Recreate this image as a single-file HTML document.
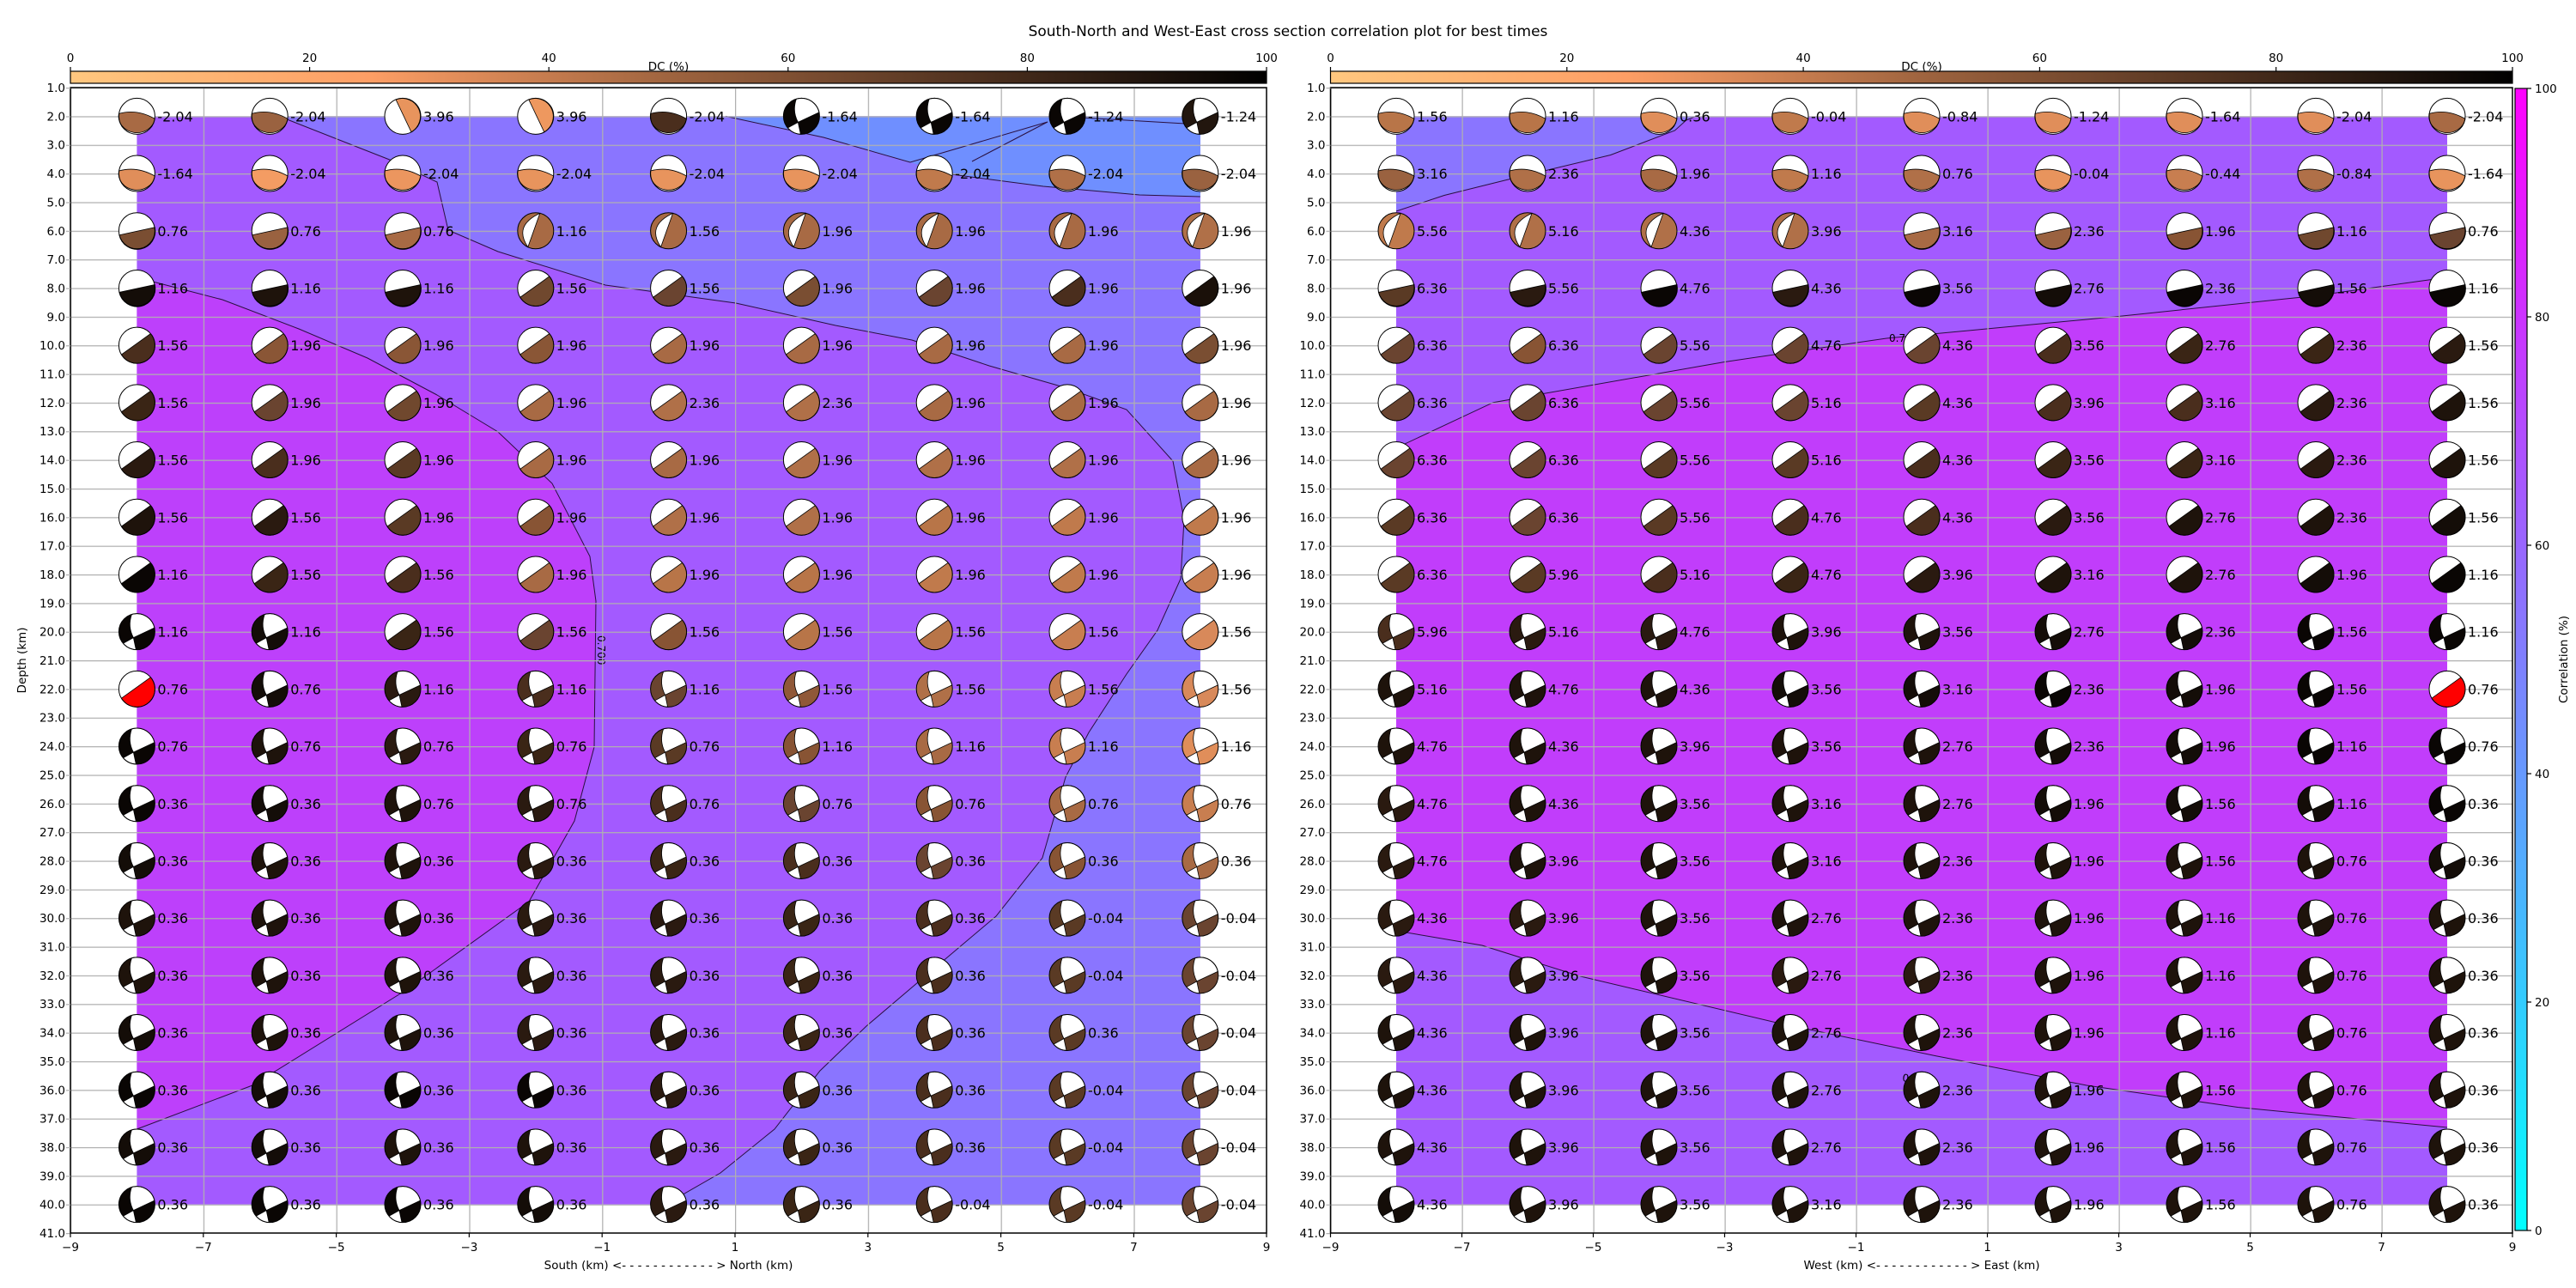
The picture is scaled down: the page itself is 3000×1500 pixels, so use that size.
<!DOCTYPE html>
<html><head><meta charset="utf-8"><style>
html,body{margin:0;padding:0;background:#fff;}
svg{display:block;font-family:"DejaVu Sans","Liberation Sans",sans-serif;}
</style></head><body>
<svg width="3000" height="1500" viewBox="0 0 3000 1500" xmlns="http://www.w3.org/2000/svg">
<defs>
<linearGradient id="dc" x1="0" x2="1" y1="0" y2="0">
<stop offset="0" stop-color="#ffc77f"/><stop offset="0.25" stop-color="#fd9e65"/><stop offset="0.5" stop-color="#9f643f"/><stop offset="0.75" stop-color="#503220"/><stop offset="1" stop-color="#000"/>
</linearGradient>
<linearGradient id="cc" x1="0" x2="0" y1="0" y2="1">
<stop offset="0" stop-color="#ff00ff"/><stop offset="1" stop-color="#00ffff"/>
</linearGradient>
<pattern id="hg" patternUnits="userSpaceOnUse" x="0" y="102" width="3000" height="33.35"><line x1="0" y1="0.6" x2="3000" y2="0.6" stroke="#b0b0b0" stroke-width="1.3"/></pattern>
<pattern id="vgL" patternUnits="userSpaceOnUse" x="82" y="0" width="154.8" height="1500"><line x1="0.6" y1="0" x2="0.6" y2="1500" stroke="#b0b0b0" stroke-width="1.3"/></pattern>
<pattern id="vgR" patternUnits="userSpaceOnUse" x="1549.5" y="0" width="153" height="1500"><line x1="0.6" y1="0" x2="0.6" y2="1500" stroke="#b0b0b0" stroke-width="1.3"/></pattern>
<g id="s1"><circle r="21" fill="#fff"/><path d="M-21,-3 Q0,-9 21,3 A21,19 0 0,1 -21,-3Z" stroke="#000" stroke-width=".8"/><circle r="21" fill="none" stroke="#000" stroke-width="1"/></g>
<g id="s2"><circle r="21" fill="#fff"/><path d="M-8,-19.4 L10,18.4 A21,21 0 0,0 -8,-19.4Z" stroke="#000" stroke-width=".8"/><circle r="21" fill="none" stroke="#000" stroke-width="1"/></g>
<g id="s4"><circle r="21" fill="#fff"/><path d="M-20.5,5 L21,-4 A21,21 0 0,1 -20.5,5Z" stroke="#000" stroke-width=".8"/><circle r="21" fill="none" stroke="#000" stroke-width="1"/></g>
<g id="s5"><circle r="21"/><path d="M5,-20.4 Q-26,-6 -9,19 Z" fill="#fff" stroke="#000" stroke-width=".8"/><circle r="21" fill="none" stroke="#000" stroke-width="1"/></g>
<g id="s6"><circle r="21" fill="#fff"/><path d="M-18,10.8 L16,-13.6 A21,21 0 1,1 -18,10.8Z" stroke="#000" stroke-width=".8"/><circle r="21" fill="none" stroke="#000" stroke-width="1"/></g>
<g id="q"><circle r="21"/><path d="M-6,-20.1 A21,21 0 0,1 20.5,-4.5 L-4,7 Q-11,-6 -6,-20.1Z" fill="#fff" stroke="#000" stroke-width=".8"/><path d="M-4,7 L-16,13.6 A21,21 0 0,0 -1,21 Z" fill="#fff" stroke="#000" stroke-width=".8"/><circle r="21" fill="none" stroke="#000" stroke-width="1"/></g>
<g id="yt" font-size="13.5" text-anchor="end">
<text><tspan x="76" y="107">1.0</tspan><tspan x="76" y="140.4">2.0</tspan><tspan x="76" y="173.7">3.0</tspan><tspan x="76" y="207">4.0</tspan><tspan x="76" y="240.4">5.0</tspan><tspan x="76" y="273.8">6.0</tspan><tspan x="76" y="307.1">7.0</tspan><tspan x="76" y="340.5">8.0</tspan><tspan x="76" y="373.8">9.0</tspan><tspan x="76" y="407.2">10.0</tspan><tspan x="76" y="440.5">11.0</tspan><tspan x="76" y="473.9">12.0</tspan><tspan x="76" y="507.2">13.0</tspan><tspan x="76" y="540.6">14.0</tspan><tspan x="76" y="573.9">15.0</tspan><tspan x="76" y="607.3">16.0</tspan><tspan x="76" y="640.6">17.0</tspan><tspan x="76" y="674">18.0</tspan><tspan x="76" y="707.3">19.0</tspan><tspan x="76" y="740.7">20.0</tspan><tspan x="76" y="774">21.0</tspan><tspan x="76" y="807.4">22.0</tspan><tspan x="76" y="840.7">23.0</tspan><tspan x="76" y="874.1">24.0</tspan><tspan x="76" y="907.4">25.0</tspan><tspan x="76" y="940.8">26.0</tspan><tspan x="76" y="974.1">27.0</tspan><tspan x="76" y="1007.5">28.0</tspan><tspan x="76" y="1040.8">29.0</tspan><tspan x="76" y="1074.2">30.0</tspan><tspan x="76" y="1107.5">31.0</tspan><tspan x="76" y="1140.9">32.0</tspan><tspan x="76" y="1174.2">33.0</tspan><tspan x="76" y="1207.6">34.0</tspan><tspan x="76" y="1240.9">35.0</tspan><tspan x="76" y="1274.3">36.0</tspan><tspan x="76" y="1307.6">37.0</tspan><tspan x="76" y="1341">38.0</tspan><tspan x="76" y="1374.3">39.0</tspan><tspan x="76" y="1407.7">40.0</tspan><tspan x="76" y="1441">41.0</tspan></text>
<rect x="77" y="101" width="5" height="1337" fill="url(#hg)"/>
</g>
</defs>

<text x="1500" y="42" font-size="17" text-anchor="middle">South-North and West-East cross section correlation plot for best times</text>

<!-- DC colorbars -->
<rect x="82" y="83" width="1393" height="14" fill="url(#dc)" stroke="#000" stroke-width="1.2"/>
<rect x="1549.5" y="83" width="1376.5" height="14" fill="url(#dc)" stroke="#000" stroke-width="1.2"/>
<g stroke="#000" stroke-width="1.2">
<line x1="82" y1="78" x2="82" y2="83"/><line x1="360.6" y1="78" x2="360.6" y2="83"/><line x1="639.2" y1="78" x2="639.2" y2="83"/><line x1="917.8" y1="78" x2="917.8" y2="83"/><line x1="1196.4" y1="78" x2="1196.4" y2="83"/><line x1="1475" y1="78" x2="1475" y2="83"/>
<line x1="1549.5" y1="78" x2="1549.5" y2="83"/><line x1="1824.8" y1="78" x2="1824.8" y2="83"/><line x1="2100.1" y1="78" x2="2100.1" y2="83"/><line x1="2375.4" y1="78" x2="2375.4" y2="83"/><line x1="2650.7" y1="78" x2="2650.7" y2="83"/><line x1="2926" y1="78" x2="2926" y2="83"/>
</g>
<g font-size="13.5" text-anchor="middle">
<text x="82" y="72">0</text><text x="360.6" y="72">20</text><text x="639.2" y="72">40</text><text x="917.8" y="72">60</text><text x="1196.4" y="72">80</text><text x="1475" y="72">100</text>
<text x="1549.5" y="72">0</text><text x="1824.8" y="72">20</text><text x="2100.1" y="72">40</text><text x="2375.4" y="72">60</text><text x="2650.7" y="72">80</text><text x="2926" y="72">100</text>
<text x="778.5" y="82">DC (%)</text><text x="2238" y="82">DC (%)</text>
</g>

<!-- LEFT fills -->
<rect x="159.4" y="135.4" width="1238.4" height="1267.3" fill="#a35aff"/>
<polygon fill="#bd40fb" points="159.4,325 178,328 259,349 348,383 428,417 509,460 580,503 643,563 687,648 694,700 692,870 669,956 616,1050 473,1153 294,1264 159.4,1315"/>
<polygon fill="#8a75ff" points="325,135.4 455,186.5 509,212 522,268 580,293 705,332 857,353 973,379 1062,396 1152,426 1241,451.5 1312,477 1366,537 1379,605 1375,674 1348,734 1312,785 1268,853 1241,905 1214,999 1160,1067 1089,1127 1009,1195 955,1247 902,1315 839,1366 775,1402.7 1397.8,1402.7 1397.8,135.4"/>
<polygon fill="#6f8fff" points="845,135.4 959,160 1060,189 1108,203 1215,217 1327,227 1397.8,229 1397.8,135.4"/>
<g fill="none" stroke="#2a1040" stroke-width="1">
<polyline points="159.4,325 178,328 259,349 348,383 428,417 509,460 580,503 643,563 687,648 694,700 692,870 669,956 616,1050 473,1153 294,1264 159.4,1315"/>
<polyline points="325,135.4 455,186.5 509,212 522,268 580,293 705,332 857,353 973,379 1062,396 1152,426 1241,451.5 1312,477 1366,537 1379,605 1375,674 1348,734 1312,785 1268,853 1241,905 1214,999 1160,1067 1089,1127 1009,1195 955,1247 902,1315 839,1366 775,1402.7"/>
<polyline points="845,135.4 959,160 1060,189 1220,142"/>
<polyline points="1132,188 1220,142"/>
<polyline points="1108,203 1215,217 1327,227 1397.8,229"/>
<polyline points="1260,137 1397.8,145"/>
</g>
<text x="0" y="0" font-size="12" transform="translate(696,740) rotate(90)">0.700</text>

<!-- RIGHT fills -->
<rect x="1626" y="135.4" width="1224" height="1267.3" fill="#a35aff"/>
<polygon fill="#c13dfb" points="1626,521.7 1739,468.7 2007.7,421.6 2197,394 2465.5,368.6 2694,344.7 2850,323 2850,1313 2606,1289.5 2430,1264 2254,1229.6 2069,1191 1840.5,1137 1726,1101 1626,1084"/>
<polygon fill="#8a75ff" points="1626,135.4 1975,135.4 1963.7,140 1950.5,152 1875.7,180.5 1752.5,210 1682,227.5 1626,246"/>
<g fill="none" stroke="#2a1040" stroke-width="1">
<polyline points="1626,521.7 1739,468.7 2007.7,421.6 2197,394 2465.5,368.6 2694,344.7 2850,323"/>
<polyline points="1626,1084 1726,1101 1840.5,1137 2069,1191 2254,1229.6 2430,1264 2606,1289.5 2850,1313"/>
<polyline points="1975,135.4 1963.7,140 1950.5,152 1875.7,180.5 1752.5,210 1682,227.5 1626,246"/>
</g>
<text x="2215" y="1259" font-size="12" transform="rotate(8 2215 1259)">0.700</text>
<text x="2200" y="398" font-size="12">0.7</text>

<!-- grids -->
<rect x="82" y="102" width="1393" height="1334" fill="url(#hg)"/>
<rect x="82" y="102" width="1393" height="1334" fill="url(#vgL)"/>
<rect x="1549.5" y="102" width="1376.5" height="1334" fill="url(#hg)"/>
<rect x="1549.5" y="102" width="1376.5" height="1334" fill="url(#vgR)"/>

<!-- LEFT balls -->
<g font-size="16">
<g transform="translate(0,135.35)"><use href="#s1" x="159.4" fill="#a86a44"/><use href="#s1" x="314.2" fill="#9a6240"/><use href="#s2" x="469" fill="#e8945d"/><use href="#s2" x="623.8" fill="#ee985f"/><use href="#s1" x="778.6" fill="#4a2e1d"/><use href="#q" x="933.4" fill="#0a0604"/><use href="#q" x="1088.2" fill="#0a0604"/><use href="#q" x="1243" fill="#0a0604"/><use href="#q" x="1397.8" fill="#22160e"/>
<text y="6"><tspan x="183.4">-2.04</tspan><tspan x="338.2">-2.04</tspan><tspan x="493">3.96</tspan><tspan x="647.8">3.96</tspan><tspan x="802.6">-2.04</tspan><tspan x="957.4">-1.64</tspan><tspan x="1112.2">-1.64</tspan><tspan x="1267">-1.24</tspan><tspan x="1421.8">-1.24</tspan></text></g>
<g transform="translate(0,202.05)"><use href="#s1" x="159.4" fill="#e08e5a"/><use href="#s1" x="314.2" fill="#f49c63"/><use href="#s1" x="469" fill="#ec965f"/><use href="#s1" x="623.8" fill="#e8945d"/><use href="#s1" x="778.6" fill="#e8945d"/><use href="#s1" x="933.4" fill="#e8945d"/><use href="#s1" x="1088.2" fill="#c07a4c"/><use href="#s1" x="1243" fill="#b07048"/><use href="#s1" x="1397.8" fill="#9a6240"/>
<text y="6"><tspan x="183.4">-1.64</tspan><tspan x="338.2">-2.04</tspan><tspan x="493">-2.04</tspan><tspan x="647.8">-2.04</tspan><tspan x="802.6">-2.04</tspan><tspan x="957.4">-2.04</tspan><tspan x="1112.2">-2.04</tspan><tspan x="1267">-2.04</tspan><tspan x="1421.8">-2.04</tspan></text></g>
<g transform="translate(0,268.75)"><use href="#s4" x="159.4" fill="#7a4e32"/><use href="#s4" x="314.2" fill="#9a6240"/><use href="#s4" x="469" fill="#a86a44"/><use href="#s5" x="623.8" fill="#a86a44"/><use href="#s5" x="778.6" fill="#a86a44"/><use href="#s5" x="933.4" fill="#a86a44"/><use href="#s5" x="1088.2" fill="#a86a44"/><use href="#s5" x="1243" fill="#a86a44"/><use href="#s5" x="1397.8" fill="#b07048"/>
<text y="6"><tspan x="183.4">0.76</tspan><tspan x="338.2">0.76</tspan><tspan x="493">0.76</tspan><tspan x="647.8">1.16</tspan><tspan x="802.6">1.56</tspan><tspan x="957.4">1.96</tspan><tspan x="1112.2">1.96</tspan><tspan x="1267">1.96</tspan><tspan x="1421.8">1.96</tspan></text></g>
<g transform="translate(0,335.45)"><use href="#s4" x="159.4" fill="#140d08"/><use href="#s4" x="314.2" fill="#1e130b"/><use href="#s4" x="469" fill="#1e130b"/><use href="#s6" x="623.8" fill="#70482e"/><use href="#s6" x="778.6" fill="#6a4430"/><use href="#s6" x="933.4" fill="#7a4e32"/><use href="#s6" x="1088.2" fill="#6a4430"/><use href="#s6" x="1243" fill="#4a2e1d"/><use href="#s6" x="1397.8" fill="#1a1009"/>
<text y="6"><tspan x="183.4">1.16</tspan><tspan x="338.2">1.16</tspan><tspan x="493">1.16</tspan><tspan x="647.8">1.56</tspan><tspan x="802.6">1.56</tspan><tspan x="957.4">1.96</tspan><tspan x="1112.2">1.96</tspan><tspan x="1267">1.96</tspan><tspan x="1421.8">1.96</tspan></text></g>
<g transform="translate(0,402.15)"><use href="#s6" x="159.4" fill="#4a2e1d"/><use href="#s6" x="314.2" fill="#8a5636"/><use href="#s6" x="469" fill="#8a5636"/><use href="#s6" x="623.8" fill="#8a5636"/><use href="#s6" x="778.6" fill="#a86a44"/><use href="#s6" x="933.4" fill="#a86a44"/><use href="#s6" x="1088.2" fill="#a86a44"/><use href="#s6" x="1243" fill="#a86a44"/><use href="#s6" x="1397.8" fill="#7a4e32"/>
<text y="6"><tspan x="183.4">1.56</tspan><tspan x="338.2">1.96</tspan><tspan x="493">1.96</tspan><tspan x="647.8">1.96</tspan><tspan x="802.6">1.96</tspan><tspan x="957.4">1.96</tspan><tspan x="1112.2">1.96</tspan><tspan x="1267">1.96</tspan><tspan x="1421.8">1.96</tspan></text></g>
<g transform="translate(0,468.85)"><use href="#s6" x="159.4" fill="#3a2515"/><use href="#s6" x="314.2" fill="#6a4430"/><use href="#s6" x="469" fill="#70482e"/><use href="#s6" x="623.8" fill="#a86a44"/><use href="#s6" x="778.6" fill="#b07048"/><use href="#s6" x="933.4" fill="#b07048"/><use href="#s6" x="1088.2" fill="#a86a44"/><use href="#s6" x="1243" fill="#a86a44"/><use href="#s6" x="1397.8" fill="#a86a44"/>
<text y="6"><tspan x="183.4">1.56</tspan><tspan x="338.2">1.96</tspan><tspan x="493">1.96</tspan><tspan x="647.8">1.96</tspan><tspan x="802.6">2.36</tspan><tspan x="957.4">2.36</tspan><tspan x="1112.2">1.96</tspan><tspan x="1267">1.96</tspan><tspan x="1421.8">1.96</tspan></text></g>
<g transform="translate(0,535.55)"><use href="#s6" x="159.4" fill="#2a1a10"/><use href="#s6" x="314.2" fill="#4a2e1d"/><use href="#s6" x="469" fill="#5a3a24"/><use href="#s6" x="623.8" fill="#a86a44"/><use href="#s6" x="778.6" fill="#a86a44"/><use href="#s6" x="933.4" fill="#b07048"/><use href="#s6" x="1088.2" fill="#b07048"/><use href="#s6" x="1243" fill="#b07048"/><use href="#s6" x="1397.8" fill="#a86a44"/>
<text y="6"><tspan x="183.4">1.56</tspan><tspan x="338.2">1.96</tspan><tspan x="493">1.96</tspan><tspan x="647.8">1.96</tspan><tspan x="802.6">1.96</tspan><tspan x="957.4">1.96</tspan><tspan x="1112.2">1.96</tspan><tspan x="1267">1.96</tspan><tspan x="1421.8">1.96</tspan></text></g>
<g transform="translate(0,602.25)"><use href="#s6" x="159.4" fill="#1e130b"/><use href="#s6" x="314.2" fill="#2a1a10"/><use href="#s6" x="469" fill="#5a3a24"/><use href="#s6" x="623.8" fill="#885434"/><use href="#s6" x="778.6" fill="#b07048"/><use href="#s6" x="933.4" fill="#b07048"/><use href="#s6" x="1088.2" fill="#b87548"/><use href="#s6" x="1243" fill="#c07a4c"/><use href="#s6" x="1397.8" fill="#c07a4c"/>
<text y="6"><tspan x="183.4">1.56</tspan><tspan x="338.2">1.56</tspan><tspan x="493">1.96</tspan><tspan x="647.8">1.96</tspan><tspan x="802.6">1.96</tspan><tspan x="957.4">1.96</tspan><tspan x="1112.2">1.96</tspan><tspan x="1267">1.96</tspan><tspan x="1421.8">1.96</tspan></text></g>
<g transform="translate(0,668.95)"><use href="#s6" x="159.4" fill="#0a0604"/><use href="#s6" x="314.2" fill="#3a2515"/><use href="#s6" x="469" fill="#4a2e1d"/><use href="#s6" x="623.8" fill="#a86a44"/><use href="#s6" x="778.6" fill="#b87548"/><use href="#s6" x="933.4" fill="#b87548"/><use href="#s6" x="1088.2" fill="#c07a4c"/><use href="#s6" x="1243" fill="#c07a4c"/><use href="#s6" x="1397.8" fill="#c87e50"/>
<text y="6"><tspan x="183.4">1.16</tspan><tspan x="338.2">1.56</tspan><tspan x="493">1.56</tspan><tspan x="647.8">1.96</tspan><tspan x="802.6">1.96</tspan><tspan x="957.4">1.96</tspan><tspan x="1112.2">1.96</tspan><tspan x="1267">1.96</tspan><tspan x="1421.8">1.96</tspan></text></g>
<g transform="translate(0,735.65)"><use href="#q" x="159.4" fill="#0a0604"/><use href="#q" x="314.2" fill="#140d08"/><use href="#s6" x="469" fill="#3a2515"/><use href="#s6" x="623.8" fill="#6a4430"/><use href="#s6" x="778.6" fill="#885434"/><use href="#s6" x="933.4" fill="#b87548"/><use href="#s6" x="1088.2" fill="#b87548"/><use href="#s6" x="1243" fill="#c87e50"/><use href="#s6" x="1397.8" fill="#d8895a"/>
<text y="6"><tspan x="183.4">1.16</tspan><tspan x="338.2">1.16</tspan><tspan x="493">1.56</tspan><tspan x="647.8">1.56</tspan><tspan x="802.6">1.56</tspan><tspan x="957.4">1.56</tspan><tspan x="1112.2">1.56</tspan><tspan x="1267">1.56</tspan><tspan x="1421.8">1.56</tspan></text></g>
<g transform="translate(0,802.35)"><use href="#s6" x="159.4" fill="#ff0000"/><use href="#q" x="314.2" fill="#140d08"/><use href="#q" x="469" fill="#2a1a10"/><use href="#q" x="623.8" fill="#4a2e1d"/><use href="#q" x="778.6" fill="#6a4430"/><use href="#q" x="933.4" fill="#905838"/><use href="#q" x="1088.2" fill="#b07048"/><use href="#q" x="1243" fill="#c87e50"/><use href="#q" x="1397.8" fill="#d8895a"/>
<text y="6"><tspan x="183.4">0.76</tspan><tspan x="338.2">0.76</tspan><tspan x="493">1.16</tspan><tspan x="647.8">1.16</tspan><tspan x="802.6">1.16</tspan><tspan x="957.4">1.56</tspan><tspan x="1112.2">1.56</tspan><tspan x="1267">1.56</tspan><tspan x="1421.8">1.56</tspan></text></g>
<g transform="translate(0,869.05)"><use href="#q" x="159.4" fill="#0a0604"/><use href="#q" x="314.2" fill="#1e130b"/><use href="#q" x="469" fill="#2a1a10"/><use href="#q" x="623.8" fill="#3a2515"/><use href="#q" x="778.6" fill="#5a3a24"/><use href="#q" x="933.4" fill="#885434"/><use href="#q" x="1088.2" fill="#a86a44"/><use href="#q" x="1243" fill="#c87e50"/><use href="#q" x="1397.8" fill="#e08e5a"/>
<text y="6"><tspan x="183.4">0.76</tspan><tspan x="338.2">0.76</tspan><tspan x="493">0.76</tspan><tspan x="647.8">0.76</tspan><tspan x="802.6">0.76</tspan><tspan x="957.4">1.16</tspan><tspan x="1112.2">1.16</tspan><tspan x="1267">1.16</tspan><tspan x="1421.8">1.16</tspan></text></g>
<g transform="translate(0,935.75)"><use href="#q" x="159.4" fill="#0a0604"/><use href="#q" x="314.2" fill="#140d08"/><use href="#q" x="469" fill="#1e130b"/><use href="#q" x="623.8" fill="#2a1a10"/><use href="#q" x="778.6" fill="#4a2e1d"/><use href="#q" x="933.4" fill="#6a4430"/><use href="#q" x="1088.2" fill="#885434"/><use href="#q" x="1243" fill="#a86a44"/><use href="#q" x="1397.8" fill="#c87e50"/>
<text y="6"><tspan x="183.4">0.36</tspan><tspan x="338.2">0.36</tspan><tspan x="493">0.76</tspan><tspan x="647.8">0.76</tspan><tspan x="802.6">0.76</tspan><tspan x="957.4">0.76</tspan><tspan x="1112.2">0.76</tspan><tspan x="1267">0.76</tspan><tspan x="1421.8">0.76</tspan></text></g>
<g transform="translate(0,1002.45)"><use href="#q" x="159.4" fill="#140d08"/><use href="#q" x="314.2" fill="#1e130b"/><use href="#q" x="469" fill="#1e130b"/><use href="#q" x="623.8" fill="#2a1a10"/><use href="#q" x="778.6" fill="#3a2515"/><use href="#q" x="933.4" fill="#4a2e1d"/><use href="#q" x="1088.2" fill="#6a4430"/><use href="#q" x="1243" fill="#885434"/><use href="#q" x="1397.8" fill="#a86a44"/>
<text y="6"><tspan x="183.4">0.36</tspan><tspan x="338.2">0.36</tspan><tspan x="493">0.36</tspan><tspan x="647.8">0.36</tspan><tspan x="802.6">0.36</tspan><tspan x="957.4">0.36</tspan><tspan x="1112.2">0.36</tspan><tspan x="1267">0.36</tspan><tspan x="1421.8">0.36</tspan></text></g>
<g transform="translate(0,1069.15)"><use href="#q" x="159.4" fill="#1e130b"/><use href="#q" x="314.2" fill="#1e130b"/><use href="#q" x="469" fill="#1e130b"/><use href="#q" x="623.8" fill="#2a1a10"/><use href="#q" x="778.6" fill="#2a1a10"/><use href="#q" x="933.4" fill="#3a2515"/><use href="#q" x="1088.2" fill="#4a2e1d"/><use href="#q" x="1243" fill="#5a3a24"/><use href="#q" x="1397.8" fill="#6a4430"/>
<text y="6"><tspan x="183.4">0.36</tspan><tspan x="338.2">0.36</tspan><tspan x="493">0.36</tspan><tspan x="647.8">0.36</tspan><tspan x="802.6">0.36</tspan><tspan x="957.4">0.36</tspan><tspan x="1112.2">0.36</tspan><tspan x="1267">-0.04</tspan><tspan x="1421.8">-0.04</tspan></text></g>
<g transform="translate(0,1135.85)"><use href="#q" x="159.4" fill="#1e130b"/><use href="#q" x="314.2" fill="#1e130b"/><use href="#q" x="469" fill="#1e130b"/><use href="#q" x="623.8" fill="#2a1a10"/><use href="#q" x="778.6" fill="#2a1a10"/><use href="#q" x="933.4" fill="#3a2515"/><use href="#q" x="1088.2" fill="#4a2e1d"/><use href="#q" x="1243" fill="#5a3a24"/><use href="#q" x="1397.8" fill="#6a4430"/>
<text y="6"><tspan x="183.4">0.36</tspan><tspan x="338.2">0.36</tspan><tspan x="493">0.36</tspan><tspan x="647.8">0.36</tspan><tspan x="802.6">0.36</tspan><tspan x="957.4">0.36</tspan><tspan x="1112.2">0.36</tspan><tspan x="1267">-0.04</tspan><tspan x="1421.8">-0.04</tspan></text></g>
<g transform="translate(0,1202.55)"><use href="#q" x="159.4" fill="#140d08"/><use href="#q" x="314.2" fill="#1e130b"/><use href="#q" x="469" fill="#1e130b"/><use href="#q" x="623.8" fill="#2a1a10"/><use href="#q" x="778.6" fill="#2a1a10"/><use href="#q" x="933.4" fill="#3a2515"/><use href="#q" x="1088.2" fill="#4a2e1d"/><use href="#q" x="1243" fill="#5a3a24"/><use href="#q" x="1397.8" fill="#6a4430"/>
<text y="6"><tspan x="183.4">0.36</tspan><tspan x="338.2">0.36</tspan><tspan x="493">0.36</tspan><tspan x="647.8">0.36</tspan><tspan x="802.6">0.36</tspan><tspan x="957.4">0.36</tspan><tspan x="1112.2">0.36</tspan><tspan x="1267">0.36</tspan><tspan x="1421.8">-0.04</tspan></text></g>
<g transform="translate(0,1269.25)"><use href="#q" x="159.4" fill="#0a0604"/><use href="#q" x="314.2" fill="#140d08"/><use href="#q" x="469" fill="#0a0604"/><use href="#q" x="623.8" fill="#0a0604"/><use href="#q" x="778.6" fill="#2a1a10"/><use href="#q" x="933.4" fill="#3a2515"/><use href="#q" x="1088.2" fill="#4a2e1d"/><use href="#q" x="1243" fill="#5a3a24"/><use href="#q" x="1397.8" fill="#6a4430"/>
<text y="6"><tspan x="183.4">0.36</tspan><tspan x="338.2">0.36</tspan><tspan x="493">0.36</tspan><tspan x="647.8">0.36</tspan><tspan x="802.6">0.36</tspan><tspan x="957.4">0.36</tspan><tspan x="1112.2">0.36</tspan><tspan x="1267">-0.04</tspan><tspan x="1421.8">-0.04</tspan></text></g>
<g transform="translate(0,1335.95)"><use href="#q" x="159.4" fill="#140d08"/><use href="#q" x="314.2" fill="#140d08"/><use href="#q" x="469" fill="#1e130b"/><use href="#q" x="623.8" fill="#1e130b"/><use href="#q" x="778.6" fill="#2a1a10"/><use href="#q" x="933.4" fill="#3a2515"/><use href="#q" x="1088.2" fill="#4a2e1d"/><use href="#q" x="1243" fill="#5a3a24"/><use href="#q" x="1397.8" fill="#6a4430"/>
<text y="6"><tspan x="183.4">0.36</tspan><tspan x="338.2">0.36</tspan><tspan x="493">0.36</tspan><tspan x="647.8">0.36</tspan><tspan x="802.6">0.36</tspan><tspan x="957.4">0.36</tspan><tspan x="1112.2">0.36</tspan><tspan x="1267">-0.04</tspan><tspan x="1421.8">-0.04</tspan></text></g>
<g transform="translate(0,1402.65)"><use href="#q" x="159.4" fill="#0a0604"/><use href="#q" x="314.2" fill="#0a0604"/><use href="#q" x="469" fill="#0a0604"/><use href="#q" x="623.8" fill="#140d08"/><use href="#q" x="778.6" fill="#2a1a10"/><use href="#q" x="933.4" fill="#3a2515"/><use href="#q" x="1088.2" fill="#4a2e1d"/><use href="#q" x="1243" fill="#5a3a24"/><use href="#q" x="1397.8" fill="#6a4430"/>
<text y="6"><tspan x="183.4">0.36</tspan><tspan x="338.2">0.36</tspan><tspan x="493">0.36</tspan><tspan x="647.8">0.36</tspan><tspan x="802.6">0.36</tspan><tspan x="957.4">0.36</tspan><tspan x="1112.2">-0.04</tspan><tspan x="1267">-0.04</tspan><tspan x="1421.8">-0.04</tspan></text></g>
</g>

<!-- RIGHT balls -->
<g font-size="16">
<g transform="translate(0,135.35)"><use href="#s1" x="1626" fill="#b87548"/><use href="#s1" x="1779" fill="#b87548"/><use href="#s1" x="1932" fill="#e08e5a"/><use href="#s1" x="2085" fill="#c07a4c"/><use href="#s1" x="2238" fill="#e08e5a"/><use href="#s1" x="2391" fill="#e08e5a"/><use href="#s1" x="2544" fill="#e08e5a"/><use href="#s1" x="2697" fill="#e08e5a"/><use href="#s1" x="2850" fill="#a86a44"/>
<text y="6"><tspan x="1650">1.56</tspan><tspan x="1803">1.16</tspan><tspan x="1956">0.36</tspan><tspan x="2109">-0.04</tspan><tspan x="2262">-0.84</tspan><tspan x="2415">-1.24</tspan><tspan x="2568">-1.64</tspan><tspan x="2721">-2.04</tspan><tspan x="2874">-2.04</tspan></text></g>
<g transform="translate(0,202.05)"><use href="#s1" x="1626" fill="#9a6240"/><use href="#s1" x="1779" fill="#b07048"/><use href="#s1" x="1932" fill="#a86a44"/><use href="#s1" x="2085" fill="#c07a4c"/><use href="#s1" x="2238" fill="#b07048"/><use href="#s1" x="2391" fill="#e8945d"/><use href="#s1" x="2544" fill="#c87e50"/><use href="#s1" x="2697" fill="#b07048"/><use href="#s1" x="2850" fill="#e8945d"/>
<text y="6"><tspan x="1650">3.16</tspan><tspan x="1803">2.36</tspan><tspan x="1956">1.96</tspan><tspan x="2109">1.16</tspan><tspan x="2262">0.76</tspan><tspan x="2415">-0.04</tspan><tspan x="2568">-0.44</tspan><tspan x="2721">-0.84</tspan><tspan x="2874">-1.64</tspan></text></g>
<g transform="translate(0,268.75)"><use href="#s5" x="1626" fill="#c07a4c"/><use href="#s5" x="1779" fill="#b07048"/><use href="#s5" x="1932" fill="#b07048"/><use href="#s5" x="2085" fill="#b07048"/><use href="#s4" x="2238" fill="#a86a44"/><use href="#s4" x="2391" fill="#9a6240"/><use href="#s4" x="2544" fill="#885434"/><use href="#s4" x="2697" fill="#70482e"/><use href="#s4" x="2850" fill="#6a4430"/>
<text y="6"><tspan x="1650">5.56</tspan><tspan x="1803">5.16</tspan><tspan x="1956">4.36</tspan><tspan x="2109">3.96</tspan><tspan x="2262">3.16</tspan><tspan x="2415">2.36</tspan><tspan x="2568">1.96</tspan><tspan x="2721">1.16</tspan><tspan x="2874">0.76</tspan></text></g>
<g transform="translate(0,335.45)"><use href="#s4" x="1626" fill="#5a3a24"/><use href="#s4" x="1779" fill="#2a1a10"/><use href="#s4" x="1932" fill="#0a0604"/><use href="#s4" x="2085" fill="#2a1a10"/><use href="#s4" x="2238" fill="#0a0604"/><use href="#s4" x="2391" fill="#140d08"/><use href="#s4" x="2544" fill="#0a0604"/><use href="#s4" x="2697" fill="#140d08"/><use href="#s4" x="2850" fill="#0a0604"/>
<text y="6"><tspan x="1650">6.36</tspan><tspan x="1803">5.56</tspan><tspan x="1956">4.76</tspan><tspan x="2109">4.36</tspan><tspan x="2262">3.56</tspan><tspan x="2415">2.76</tspan><tspan x="2568">2.36</tspan><tspan x="2721">1.56</tspan><tspan x="2874">1.16</tspan></text></g>
<g transform="translate(0,402.15)"><use href="#s6" x="1626" fill="#6a4430"/><use href="#s6" x="1779" fill="#885434"/><use href="#s6" x="1932" fill="#6a4430"/><use href="#s6" x="2085" fill="#6a4430"/><use href="#s6" x="2238" fill="#6a4430"/><use href="#s6" x="2391" fill="#4a2e1d"/><use href="#s6" x="2544" fill="#3a2515"/><use href="#s6" x="2697" fill="#3a2515"/><use href="#s6" x="2850" fill="#2a1a10"/>
<text y="6"><tspan x="1650">6.36</tspan><tspan x="1803">6.36</tspan><tspan x="1956">5.56</tspan><tspan x="2109">4.76</tspan><tspan x="2262">4.36</tspan><tspan x="2415">3.56</tspan><tspan x="2568">2.76</tspan><tspan x="2721">2.36</tspan><tspan x="2874">1.56</tspan></text></g>
<g transform="translate(0,468.85)"><use href="#s6" x="1626" fill="#6a4430"/><use href="#s6" x="1779" fill="#6a4430"/><use href="#s6" x="1932" fill="#6a4430"/><use href="#s6" x="2085" fill="#6a4430"/><use href="#s6" x="2238" fill="#5a3a24"/><use href="#s6" x="2391" fill="#4a2e1d"/><use href="#s6" x="2544" fill="#4a2e1d"/><use href="#s6" x="2697" fill="#2a1a10"/><use href="#s6" x="2850" fill="#1e130b"/>
<text y="6"><tspan x="1650">6.36</tspan><tspan x="1803">6.36</tspan><tspan x="1956">5.56</tspan><tspan x="2109">5.16</tspan><tspan x="2262">4.36</tspan><tspan x="2415">3.96</tspan><tspan x="2568">3.16</tspan><tspan x="2721">2.36</tspan><tspan x="2874">1.56</tspan></text></g>
<g transform="translate(0,535.55)"><use href="#s6" x="1626" fill="#6a4430"/><use href="#s6" x="1779" fill="#6a4430"/><use href="#s6" x="1932" fill="#5a3a24"/><use href="#s6" x="2085" fill="#5a3a24"/><use href="#s6" x="2238" fill="#4a2e1d"/><use href="#s6" x="2391" fill="#3a2515"/><use href="#s6" x="2544" fill="#3a2515"/><use href="#s6" x="2697" fill="#2a1a10"/><use href="#s6" x="2850" fill="#1e130b"/>
<text y="6"><tspan x="1650">6.36</tspan><tspan x="1803">6.36</tspan><tspan x="1956">5.56</tspan><tspan x="2109">5.16</tspan><tspan x="2262">4.36</tspan><tspan x="2415">3.56</tspan><tspan x="2568">3.16</tspan><tspan x="2721">2.36</tspan><tspan x="2874">1.56</tspan></text></g>
<g transform="translate(0,602.25)"><use href="#s6" x="1626" fill="#5a3a24"/><use href="#s6" x="1779" fill="#6a4430"/><use href="#s6" x="1932" fill="#5a3a24"/><use href="#s6" x="2085" fill="#4a2e1d"/><use href="#s6" x="2238" fill="#4a2e1d"/><use href="#s6" x="2391" fill="#2a1a10"/><use href="#s6" x="2544" fill="#1e130b"/><use href="#s6" x="2697" fill="#1e130b"/><use href="#s6" x="2850" fill="#140d08"/>
<text y="6"><tspan x="1650">6.36</tspan><tspan x="1803">6.36</tspan><tspan x="1956">5.56</tspan><tspan x="2109">4.76</tspan><tspan x="2262">4.36</tspan><tspan x="2415">3.56</tspan><tspan x="2568">2.76</tspan><tspan x="2721">2.36</tspan><tspan x="2874">1.56</tspan></text></g>
<g transform="translate(0,668.95)"><use href="#s6" x="1626" fill="#5a3a24"/><use href="#s6" x="1779" fill="#5a3a24"/><use href="#s6" x="1932" fill="#4a2e1d"/><use href="#s6" x="2085" fill="#3a2515"/><use href="#s6" x="2238" fill="#2a1a10"/><use href="#s6" x="2391" fill="#1e130b"/><use href="#s6" x="2544" fill="#1e130b"/><use href="#s6" x="2697" fill="#140d08"/><use href="#s6" x="2850" fill="#0a0604"/>
<text y="6"><tspan x="1650">6.36</tspan><tspan x="1803">5.96</tspan><tspan x="1956">5.16</tspan><tspan x="2109">4.76</tspan><tspan x="2262">3.96</tspan><tspan x="2415">3.16</tspan><tspan x="2568">2.76</tspan><tspan x="2721">1.96</tspan><tspan x="2874">1.16</tspan></text></g>
<g transform="translate(0,735.65)"><use href="#q" x="1626" fill="#4a2e1d"/><use href="#q" x="1779" fill="#2a1a10"/><use href="#q" x="1932" fill="#2a1a10"/><use href="#q" x="2085" fill="#1e130b"/><use href="#q" x="2238" fill="#1e130b"/><use href="#q" x="2391" fill="#140d08"/><use href="#q" x="2544" fill="#140d08"/><use href="#q" x="2697" fill="#0a0604"/><use href="#q" x="2850" fill="#0a0604"/>
<text y="6"><tspan x="1650">5.96</tspan><tspan x="1803">5.16</tspan><tspan x="1956">4.76</tspan><tspan x="2109">3.96</tspan><tspan x="2262">3.56</tspan><tspan x="2415">2.76</tspan><tspan x="2568">2.36</tspan><tspan x="2721">1.56</tspan><tspan x="2874">1.16</tspan></text></g>
<g transform="translate(0,802.35)"><use href="#q" x="1626" fill="#1e130b"/><use href="#q" x="1779" fill="#1e130b"/><use href="#q" x="1932" fill="#1e130b"/><use href="#q" x="2085" fill="#140d08"/><use href="#q" x="2238" fill="#140d08"/><use href="#q" x="2391" fill="#0a0604"/><use href="#q" x="2544" fill="#140d08"/><use href="#q" x="2697" fill="#0a0604"/><use href="#s6" x="2850" fill="#ff0000"/>
<text y="6"><tspan x="1650">5.16</tspan><tspan x="1803">4.76</tspan><tspan x="1956">4.36</tspan><tspan x="2109">3.56</tspan><tspan x="2262">3.16</tspan><tspan x="2415">2.36</tspan><tspan x="2568">1.96</tspan><tspan x="2721">1.56</tspan><tspan x="2874">0.76</tspan></text></g>
<g transform="translate(0,869.05)"><use href="#q" x="1626" fill="#1e130b"/><use href="#q" x="1779" fill="#1e130b"/><use href="#q" x="1932" fill="#1e130b"/><use href="#q" x="2085" fill="#1e130b"/><use href="#q" x="2238" fill="#1e130b"/><use href="#q" x="2391" fill="#140d08"/><use href="#q" x="2544" fill="#140d08"/><use href="#q" x="2697" fill="#0a0604"/><use href="#q" x="2850" fill="#0a0604"/>
<text y="6"><tspan x="1650">4.76</tspan><tspan x="1803">4.36</tspan><tspan x="1956">3.96</tspan><tspan x="2109">3.56</tspan><tspan x="2262">2.76</tspan><tspan x="2415">2.36</tspan><tspan x="2568">1.96</tspan><tspan x="2721">1.16</tspan><tspan x="2874">0.76</tspan></text></g>
<g transform="translate(0,935.75)"><use href="#q" x="1626" fill="#2a1a10"/><use href="#q" x="1779" fill="#1e130b"/><use href="#q" x="1932" fill="#1e130b"/><use href="#q" x="2085" fill="#1e130b"/><use href="#q" x="2238" fill="#1e130b"/><use href="#q" x="2391" fill="#140d08"/><use href="#q" x="2544" fill="#140d08"/><use href="#q" x="2697" fill="#140d08"/><use href="#q" x="2850" fill="#0a0604"/>
<text y="6"><tspan x="1650">4.76</tspan><tspan x="1803">4.36</tspan><tspan x="1956">3.56</tspan><tspan x="2109">3.16</tspan><tspan x="2262">2.76</tspan><tspan x="2415">1.96</tspan><tspan x="2568">1.56</tspan><tspan x="2721">1.16</tspan><tspan x="2874">0.36</tspan></text></g>
<g transform="translate(0,1002.45)"><use href="#q" x="1626" fill="#2a1a10"/><use href="#q" x="1779" fill="#1e130b"/><use href="#q" x="1932" fill="#1e130b"/><use href="#q" x="2085" fill="#1e130b"/><use href="#q" x="2238" fill="#1e130b"/><use href="#q" x="2391" fill="#1e130b"/><use href="#q" x="2544" fill="#1e130b"/><use href="#q" x="2697" fill="#1e130b"/><use href="#q" x="2850" fill="#140d08"/>
<text y="6"><tspan x="1650">4.76</tspan><tspan x="1803">3.96</tspan><tspan x="1956">3.56</tspan><tspan x="2109">3.16</tspan><tspan x="2262">2.36</tspan><tspan x="2415">1.96</tspan><tspan x="2568">1.56</tspan><tspan x="2721">0.76</tspan><tspan x="2874">0.36</tspan></text></g>
<g transform="translate(0,1069.15)"><use href="#q" x="1626" fill="#2a1a10"/><use href="#q" x="1779" fill="#2a1a10"/><use href="#q" x="1932" fill="#1e130b"/><use href="#q" x="2085" fill="#1e130b"/><use href="#q" x="2238" fill="#1e130b"/><use href="#q" x="2391" fill="#1e130b"/><use href="#q" x="2544" fill="#1e130b"/><use href="#q" x="2697" fill="#1e130b"/><use href="#q" x="2850" fill="#1e130b"/>
<text y="6"><tspan x="1650">4.36</tspan><tspan x="1803">3.96</tspan><tspan x="1956">3.56</tspan><tspan x="2109">2.76</tspan><tspan x="2262">2.36</tspan><tspan x="2415">1.96</tspan><tspan x="2568">1.16</tspan><tspan x="2721">0.76</tspan><tspan x="2874">0.36</tspan></text></g>
<g transform="translate(0,1135.85)"><use href="#q" x="1626" fill="#2a1a10"/><use href="#q" x="1779" fill="#2a1a10"/><use href="#q" x="1932" fill="#1e130b"/><use href="#q" x="2085" fill="#2a1a10"/><use href="#q" x="2238" fill="#2a1a10"/><use href="#q" x="2391" fill="#1e130b"/><use href="#q" x="2544" fill="#1e130b"/><use href="#q" x="2697" fill="#1e130b"/><use href="#q" x="2850" fill="#1e130b"/>
<text y="6"><tspan x="1650">4.36</tspan><tspan x="1803">3.96</tspan><tspan x="1956">3.56</tspan><tspan x="2109">2.76</tspan><tspan x="2262">2.36</tspan><tspan x="2415">1.96</tspan><tspan x="2568">1.16</tspan><tspan x="2721">0.76</tspan><tspan x="2874">0.36</tspan></text></g>
<g transform="translate(0,1202.55)"><use href="#q" x="1626" fill="#1e130b"/><use href="#q" x="1779" fill="#1e130b"/><use href="#q" x="1932" fill="#1e130b"/><use href="#q" x="2085" fill="#1e130b"/><use href="#q" x="2238" fill="#1e130b"/><use href="#q" x="2391" fill="#1e130b"/><use href="#q" x="2544" fill="#1e130b"/><use href="#q" x="2697" fill="#1e130b"/><use href="#q" x="2850" fill="#1e130b"/>
<text y="6"><tspan x="1650">4.36</tspan><tspan x="1803">3.96</tspan><tspan x="1956">3.56</tspan><tspan x="2109">2.76</tspan><tspan x="2262">2.36</tspan><tspan x="2415">1.96</tspan><tspan x="2568">1.16</tspan><tspan x="2721">0.76</tspan><tspan x="2874">0.36</tspan></text></g>
<g transform="translate(0,1269.25)"><use href="#q" x="1626" fill="#1e130b"/><use href="#q" x="1779" fill="#1e130b"/><use href="#q" x="1932" fill="#1e130b"/><use href="#q" x="2085" fill="#1e130b"/><use href="#q" x="2238" fill="#1e130b"/><use href="#q" x="2391" fill="#1e130b"/><use href="#q" x="2544" fill="#1e130b"/><use href="#q" x="2697" fill="#1e130b"/><use href="#q" x="2850" fill="#1e130b"/>
<text y="6"><tspan x="1650">4.36</tspan><tspan x="1803">3.96</tspan><tspan x="1956">3.56</tspan><tspan x="2109">2.76</tspan><tspan x="2262">2.36</tspan><tspan x="2415">1.96</tspan><tspan x="2568">1.56</tspan><tspan x="2721">0.76</tspan><tspan x="2874">0.36</tspan></text></g>
<g transform="translate(0,1335.95)"><use href="#q" x="1626" fill="#1e130b"/><use href="#q" x="1779" fill="#1e130b"/><use href="#q" x="1932" fill="#1e130b"/><use href="#q" x="2085" fill="#1e130b"/><use href="#q" x="2238" fill="#1e130b"/><use href="#q" x="2391" fill="#1e130b"/><use href="#q" x="2544" fill="#1e130b"/><use href="#q" x="2697" fill="#1e130b"/><use href="#q" x="2850" fill="#1e130b"/>
<text y="6"><tspan x="1650">4.36</tspan><tspan x="1803">3.96</tspan><tspan x="1956">3.56</tspan><tspan x="2109">2.76</tspan><tspan x="2262">2.36</tspan><tspan x="2415">1.96</tspan><tspan x="2568">1.56</tspan><tspan x="2721">0.76</tspan><tspan x="2874">0.36</tspan></text></g>
<g transform="translate(0,1402.65)"><use href="#q" x="1626" fill="#140d08"/><use href="#q" x="1779" fill="#1e130b"/><use href="#q" x="1932" fill="#1e130b"/><use href="#q" x="2085" fill="#1e130b"/><use href="#q" x="2238" fill="#1e130b"/><use href="#q" x="2391" fill="#1e130b"/><use href="#q" x="2544" fill="#1e130b"/><use href="#q" x="2697" fill="#1e130b"/><use href="#q" x="2850" fill="#1e130b"/>
<text y="6"><tspan x="1650">4.36</tspan><tspan x="1803">3.96</tspan><tspan x="1956">3.56</tspan><tspan x="2109">3.16</tspan><tspan x="2262">2.36</tspan><tspan x="2415">1.96</tspan><tspan x="2568">1.56</tspan><tspan x="2721">0.76</tspan><tspan x="2874">0.36</tspan></text></g>
</g>

<!-- axes frames -->
<rect x="82" y="102" width="1393" height="1334" fill="none" stroke="#000" stroke-width="1.5"/>
<rect x="1549.5" y="102" width="1376.5" height="1334" fill="none" stroke="#000" stroke-width="1.5"/>
<use href="#yt"/>
<use href="#yt" transform="translate(1467.5,0)"/>

<!-- x ticks -->
<g stroke="#000" stroke-width="1.2">
<line x1="82" y1="1436" x2="82" y2="1441"/><line x1="236.8" y1="1436" x2="236.8" y2="1441"/><line x1="391.6" y1="1436" x2="391.6" y2="1441"/><line x1="546.4" y1="1436" x2="546.4" y2="1441"/><line x1="701.2" y1="1436" x2="701.2" y2="1441"/><line x1="856" y1="1436" x2="856" y2="1441"/><line x1="1010.8" y1="1436" x2="1010.8" y2="1441"/><line x1="1165.6" y1="1436" x2="1165.6" y2="1441"/><line x1="1320.4" y1="1436" x2="1320.4" y2="1441"/><line x1="1475" y1="1436" x2="1475" y2="1441"/>
<line x1="1549.5" y1="1436" x2="1549.5" y2="1441"/><line x1="1702.5" y1="1436" x2="1702.5" y2="1441"/><line x1="1855.5" y1="1436" x2="1855.5" y2="1441"/><line x1="2008.5" y1="1436" x2="2008.5" y2="1441"/><line x1="2161.5" y1="1436" x2="2161.5" y2="1441"/><line x1="2314.5" y1="1436" x2="2314.5" y2="1441"/><line x1="2467.5" y1="1436" x2="2467.5" y2="1441"/><line x1="2620.5" y1="1436" x2="2620.5" y2="1441"/><line x1="2773.5" y1="1436" x2="2773.5" y2="1441"/><line x1="2926" y1="1436" x2="2926" y2="1441"/>
</g>
<g font-size="13.5" text-anchor="middle">
<text x="82" y="1457">−9</text><text x="236.8" y="1457">−7</text><text x="391.6" y="1457">−5</text><text x="546.4" y="1457">−3</text><text x="701.2" y="1457">−1</text><text x="856" y="1457">1</text><text x="1010.8" y="1457">3</text><text x="1165.6" y="1457">5</text><text x="1320.4" y="1457">7</text><text x="1475" y="1457">9</text>
<text x="1549.5" y="1457">−9</text><text x="1702.5" y="1457">−7</text><text x="1855.5" y="1457">−5</text><text x="2008.5" y="1457">−3</text><text x="2161.5" y="1457">−1</text><text x="2314.5" y="1457">1</text><text x="2467.5" y="1457">3</text><text x="2620.5" y="1457">5</text><text x="2773.5" y="1457">7</text><text x="2926" y="1457">9</text>
<text x="778.5" y="1478">South (km) &lt;- - - - - - - - - - - - &gt; North (km)</text>
<text x="2238" y="1478">West (km) &lt;- - - - - - - - - - - - &gt; East (km)</text>
<text x="0" y="0" transform="translate(30,769) rotate(-90)">Depth (km)</text>
</g>

<!-- correlation colorbar -->
<rect x="2929" y="103" width="14" height="1330" fill="url(#cc)" stroke="#000" stroke-width="1.2"/>
<g stroke="#000" stroke-width="1.2">
<line x1="2943" y1="103" x2="2948" y2="103"/><line x1="2943" y1="369" x2="2948" y2="369"/><line x1="2943" y1="635" x2="2948" y2="635"/><line x1="2943" y1="901" x2="2948" y2="901"/><line x1="2943" y1="1167" x2="2948" y2="1167"/><line x1="2943" y1="1433" x2="2948" y2="1433"/>
</g>
<g font-size="13.5">
<text x="2952" y="108">100</text><text x="2952" y="374">80</text><text x="2952" y="640">60</text><text x="2952" y="906">40</text><text x="2952" y="1172">20</text><text x="2952" y="1438">0</text>
<text x="0" y="0" text-anchor="middle" transform="translate(2990,768) rotate(-90)">Correlation (%)</text>
</g>
</svg>
</body></html>
